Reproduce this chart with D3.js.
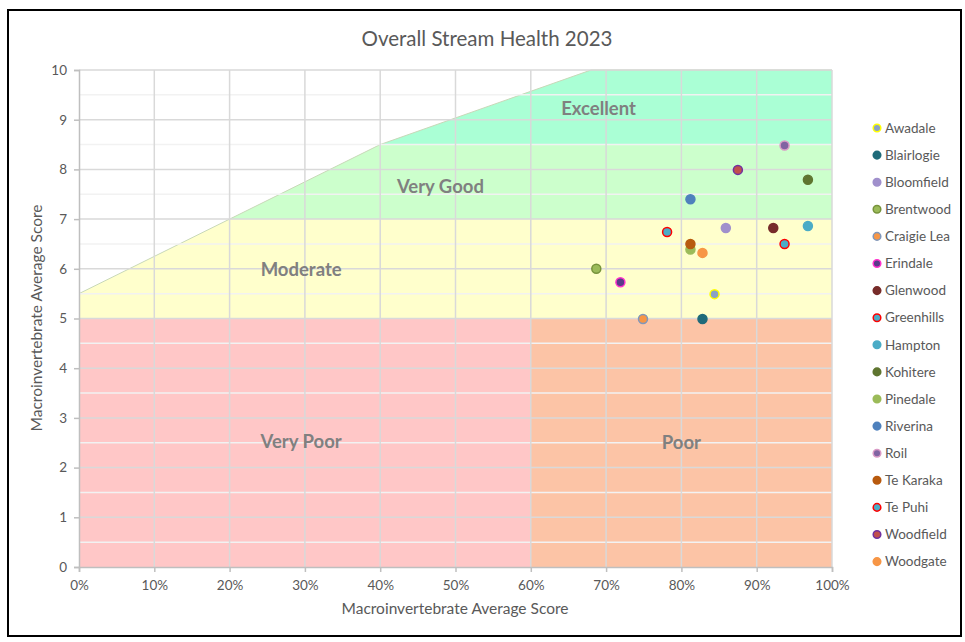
<!DOCTYPE html>
<html>
<head>
<meta charset="utf-8">
<script src="https://cdn.jsdelivr.net/npm/d3@7"></script>
<style>
  body { margin: 0; background: #fff; }
  text { font-family: Lato, "Open Sans", sans-serif; }
</style>
</head>
<body>
<svg width="965" height="642"></svg>
<script>
// sites and their scores (x = % , y = average score)
const sites = ["Awadale", "Blairlogie", "Bloomfield", "Brentwood", "Craigie Lea", "Erindale",
  "Glenwood", "Greenhills", "Hampton", "Kohitere", "Pinedale", "Riverina", "Roil",
  "Te Karaka", "Te Puhi", "Woodfield", "Woodgate"];
const xPct = [0.844, 0.828, 0.859, 0.687, 0.749, 0.719, 0.922, 0.781, 0.968, 0.968,
  0.812, 0.812, 0.937, 0.812, 0.937, 0.875, 0.828];
const yScore = [5.49, 4.99, 6.82, 6.0, 4.99, 5.73, 6.82, 6.74, 6.86, 7.79,
  6.39, 7.40, 8.48, 6.50, 6.50, 7.99, 6.32];

// class boundary line (top edge of coloured area)
const edgeX = [0, 0.4, 0.68, 1];
const edgeY = [5.5, 8.5, 10, 10];

const bandNames = ["Very Poor", "Poor", "Moderate", "Very Good", "Excellent"];
const bandX0 = [0, 0.6, 0, 0, 0];
const bandX1 = [0.6, 1, 1, 1, 1];
const bandY0 = [0, 0, 5, 7, 8.5];
const bandY1 = [5, 5, 7, 8.5, 10];
// label anchor in data units
const labelX = [0.295, 0.8, 0.295, 0.48, 0.69];
const labelY = [2.5, 2.47, 5.96, 7.63, 9.2];

const xTicks = d3.range(0, 1.01, 0.1);
const yTicks = d3.range(0, 11, 1);

const bandFill = ["#ffc7c7", "#fcc4a6", "#ffffcc", "#ccffcc", "#aaffd5"];
const markFill = ["#8aa2c4", "#1f6b7a", "#a090cc", "#9bbb59", "#f79646", "#5a3a8a",
  "#772c2a", "#4bacc6", "#4bacc6", "#5f7530", "#9bbb59", "#4f81bd", "#8064a2",
  "#b85a0e", "#4bacc6", "#c0504d", "#f79646"];
const markStroke = ["#ffff00", "#1f6b7a", "#a090cc", "#77933c", "#7f97bb", "#ff33cc",
  "#772c2a", "#ff0000", "#4bacc6", "#5f7530", "#9bbb59", "#4f81bd", "#d99ac6",
  "#b85a0e", "#ff0000", "#7030a0", "#f79646"];

const svg = d3.select("svg");
const pLeft = 79, pRight = 832, pTop = 70, pBottom = 567;

const x = d3.scaleLinear().domain([0, 1]).range([pLeft, pRight]);
const y = d3.scaleLinear().domain([0, 10]).range([pBottom, pTop]);

// outer frame
svg.append("rect").attr("x", 8).attr("y", 10).attr("width", 953).attr("height", 626)
  .attr("fill", "#fff").attr("stroke", "#000").attr("stroke-width", 2);

svg.append("text").attr("x", 487).attr("y", 46).attr("text-anchor", "middle")
  .attr("font-size", "20.5px").attr("fill", "#595959").text("Overall Stream Health 2023");

// clip for area under boundary line
const edgePts = edgeX.map((d, i) => [x(d), y(edgeY[i])]);
const clipPts = edgePts.concat([[x(1), y(0)], [x(0), y(0)]]);
svg.append("clipPath").attr("id", "under")
  .append("polygon").attr("points", clipPts.map(p => p.join(",")).join(" "));

const bands = svg.append("g").attr("clip-path", "url(#under)");
bands.selectAll("rect").data(bandNames).enter().append("rect")
  .attr("x", (d, i) => x(bandX0[i]))
  .attr("y", (d, i) => y(bandY1[i]))
  .attr("width", (d, i) => x(bandX1[i]) - x(bandX0[i]))
  .attr("height", (d, i) => y(bandY0[i]) - y(bandY1[i]))
  .attr("fill", (d, i) => bandFill[i]);

svg.append("path").attr("d", d3.line()(edgePts))
  .attr("fill", "none").attr("stroke", "#c8d8b8").attr("stroke-width", 1);

// minor gridlines
const grid = svg.append("g");
grid.selectAll(".minor").data(d3.range(0.5, 10, 1)).enter().append("line")
  .attr("x1", pLeft).attr("x2", pRight)
  .attr("y1", d => y(d)).attr("y2", d => y(d))
  .attr("stroke", "#f2f2f2").attr("stroke-width", 1.5);
// major gridlines
grid.selectAll(".hy").data(yTicks.slice(1)).enter().append("line")
  .attr("x1", pLeft).attr("x2", pRight)
  .attr("y1", d => y(d)).attr("y2", d => y(d))
  .attr("stroke", "#d9d9d9").attr("stroke-width", 1.5);
grid.selectAll(".vx").data(xTicks.slice(1)).enter().append("line")
  .attr("y1", pTop).attr("y2", pBottom)
  .attr("x1", d => x(d)).attr("x2", d => x(d))
  .attr("stroke", "#d9d9d9").attr("stroke-width", 1.5);

// axes
const xAxis = svg.append("g").attr("transform", `translate(0,${pBottom})`)
  .call(d3.axisBottom(x).tickValues(xTicks).tickFormat(d3.format(".0%")).tickSize(5).tickPadding(8));
const yAxis = svg.append("g").attr("transform", `translate(${pLeft},0)`)
  .call(d3.axisLeft(y).tickValues(yTicks).tickSize(5).tickPadding(7));
[xAxis, yAxis].forEach(a => {
  a.select(".domain").attr("stroke", "#bfbfbf").attr("stroke-width", 1.5);
  a.selectAll(".tick line").attr("stroke", "#bfbfbf").attr("stroke-width", 1.5);
  a.selectAll("text").attr("fill", "#595959").attr("font-size", "13.5px")
    .attr("font-family", "Lato, 'Open Sans', sans-serif");
});

svg.append("text").attr("x", 455).attr("y", 614).attr("text-anchor", "middle")
  .attr("font-size", "15.5px").attr("fill", "#595959").text("Macroinvertebrate Average Score");
svg.append("text").attr("transform", "translate(42,318) rotate(-90)").attr("text-anchor", "middle")
  .attr("font-size", "15.5px").attr("fill", "#595959").text("Macroinvertebrate Average Score");

// band labels
svg.selectAll(".blab").data(bandNames).enter().append("text")
  .attr("x", (d, i) => x(labelX[i])).attr("y", (d, i) => y(labelY[i]))
  .attr("text-anchor", "middle").attr("dominant-baseline", "middle")
  .attr("font-size", "18.5px").attr("font-weight", "bold").attr("fill", "#808080")
  .text(d => d);

// points
svg.selectAll(".pt").data(sites).enter().append("circle")
  .attr("cx", (d, i) => x(xPct[i])).attr("cy", (d, i) => y(yScore[i]))
  .attr("r", 4.5)
  .attr("fill", (d, i) => markFill[i])
  .attr("stroke", (d, i) => markStroke[i]).attr("stroke-width", 1.5);

// legend
const leg = svg.append("g").attr("transform", "translate(877,128)");
const rows = leg.selectAll("g").data(sites).enter().append("g")
  .attr("transform", (d, i) => `translate(0,${i * 27.1})`);
rows.append("circle").attr("r", 3.8)
  .attr("fill", (d, i) => markFill[i])
  .attr("stroke", (d, i) => markStroke[i]).attr("stroke-width", 1.5);
rows.append("text").attr("x", 8).attr("dy", "0.35em")
  .attr("font-size", "13.5px").attr("fill", "#595959").text(d => d);
</script>
</body>
</html>
